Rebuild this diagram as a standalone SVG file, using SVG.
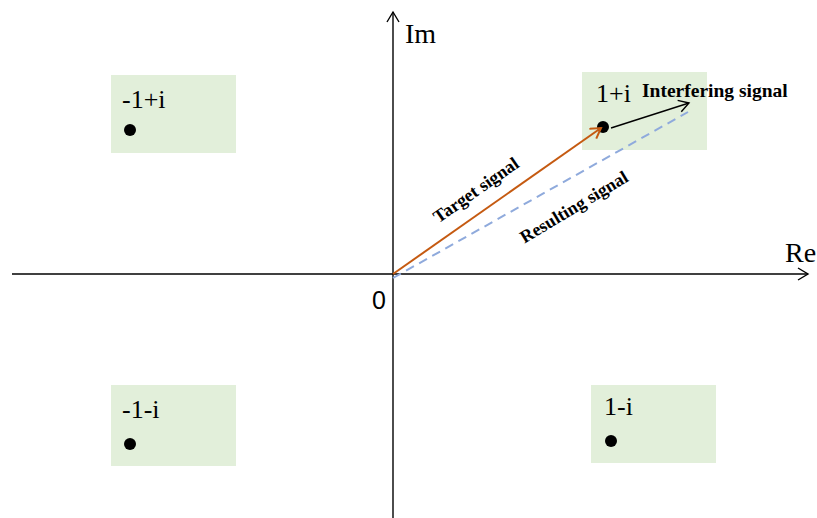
<svg xmlns="http://www.w3.org/2000/svg" width="817" height="518" viewBox="0 0 817 518">
<style>
.box{fill:#E2EFDA;stroke:none}
.lbl{font-family:"Liberation Serif",serif;font-size:26px;fill:#000}
.ax{font-family:"Liberation Serif",serif;font-size:28px;fill:#000}
.sig{font-family:"Liberation Serif",serif;font-size:18px;font-weight:bold;fill:#000}
.dot{fill:#000}
</style>
<defs>
<marker id="ah" markerWidth="14" markerHeight="14" refX="12" refY="7" orient="auto" markerUnits="userSpaceOnUse">
<path d="M2,1 L12,7 L2,13" fill="none" stroke="#000" stroke-width="1.4"/>
</marker>
<marker id="ahO" markerWidth="14" markerHeight="14" refX="12" refY="7" orient="auto" markerUnits="userSpaceOnUse">
<path d="M2,1 L12,7 L2,13" fill="none" stroke="#C55A11" stroke-width="2"/>
</marker>
</defs>
<rect width="817" height="518" fill="#fff"/>
<g id="node-m1p">
<rect class="box" x="111" y="75" width="125" height="78"/>
<text class="lbl" x="122" y="108">-1+i</text>
<circle class="dot" cx="130" cy="130" r="6"/>
</g>
<g id="node-p1p">
<rect class="box" x="582" y="72" width="125" height="78"/>
<text class="lbl" x="596" y="102">1+i</text>
<circle class="dot" cx="603" cy="127" r="6"/>
</g>
<g id="node-m1m">
<rect class="box" x="111" y="385" width="125" height="81"/>
<text class="lbl" x="122" y="418">-1-i</text>
<circle class="dot" cx="130" cy="444" r="6"/>
</g>
<g id="node-p1m">
<rect class="box" x="591" y="385" width="125" height="78"/>
<text class="lbl" x="604" y="415">1-i</text>
<circle class="dot" cx="611" cy="441" r="6"/>
</g>
<g id="axes">
<line x1="12" y1="274" x2="808" y2="274" stroke="#000" stroke-width="1.4" marker-end="url(#ah)"/>
<line x1="393" y1="518" x2="393" y2="12" stroke="#000" stroke-width="1.4" marker-end="url(#ah)"/>
<text class="ax" x="405" y="43">Im</text>
<text class="ax" x="785" y="262">Re</text>
<text x="372" y="309" font-family="Liberation Sans,sans-serif" font-size="25">0</text>
</g>
<g id="connectors">
<line x1="393" y1="278" x2="688" y2="112" stroke="#8FAADC" stroke-width="2" stroke-dasharray="9,6"/>
<line x1="393" y1="274" x2="601" y2="128" stroke="#C55A11" stroke-width="2" marker-end="url(#ahO)"/>
<line x1="611" y1="128" x2="689" y2="103" stroke="#000" stroke-width="1.4" marker-end="url(#ah)"/>
<text class="sig" x="476" y="196" text-anchor="middle" transform="rotate(-35 476 190)">Target signal</text>
<text class="sig" x="574" y="213" text-anchor="middle" transform="rotate(-31 574 207)">Resulting signal</text>
<text class="sig" x="642" y="97" style="font-size:19.5px">Interfering signal</text>
</g>
</svg>
